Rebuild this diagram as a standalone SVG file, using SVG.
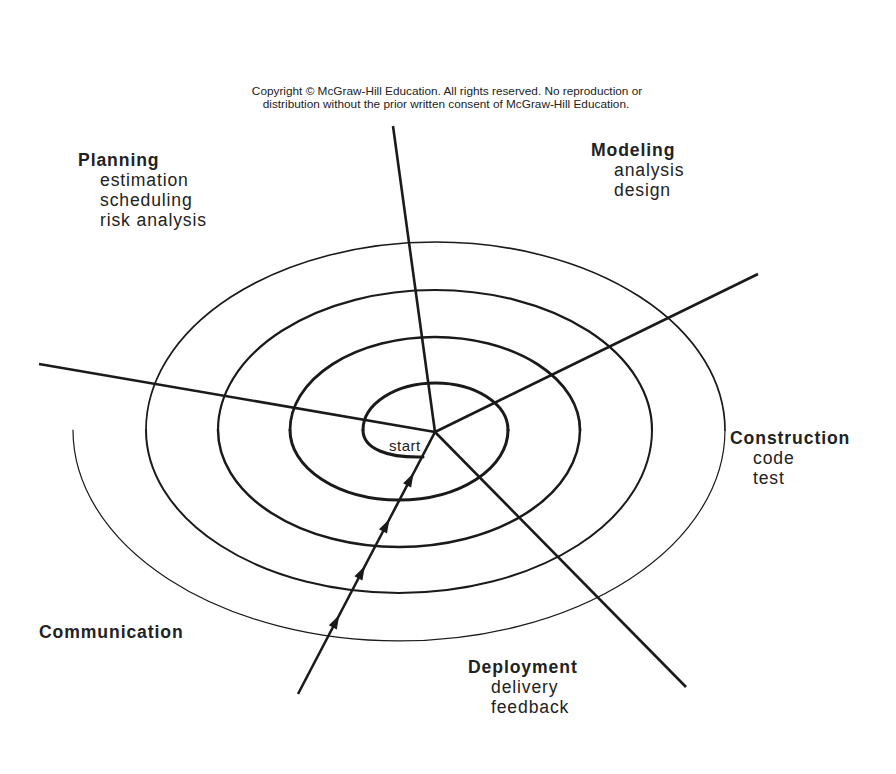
<svg xmlns="http://www.w3.org/2000/svg" width="896" height="774" viewBox="0 0 896 774">
<style>
.bg{fill:#ffffff}
.ring{fill:none;stroke:#1a1a1a;stroke-linecap:round}
.ray{fill:none;stroke:#1a1a1a;stroke-width:2.6;stroke-linecap:butt}
.copy{font-family:"Liberation Sans",Arial,sans-serif;font-size:11.8px;fill:#222;text-anchor:middle}
.head{font-family:"Liberation Sans",Arial,sans-serif;font-size:17.6px;font-weight:bold;fill:#222;letter-spacing:0.9px}
.item{font-family:"Liberation Sans",Arial,sans-serif;font-size:17.6px;fill:#222;letter-spacing:0.85px}
.start{font-family:"Liberation Sans",Arial,sans-serif;font-size:15px;fill:#222;letter-spacing:0.5px}
</style>
<defs>
<marker id="arr" markerUnits="userSpaceOnUse" viewBox="-15 -6 16 12" markerWidth="16" markerHeight="12" refX="0" refY="0" orient="auto">
<path d="M0,0 L-14,-4.5 L-14,4.5 Z" fill="#1a1a1a"/>
</marker>
</defs>
<rect class="bg" x="0" y="0" width="896" height="774"/>
<g id="copyright">
<text class="copy" x="447" y="95">Copyright © McGraw-Hill Education. All rights reserved. No reproduction or</text>
<text class="copy" x="446" y="108">distribution without the prior written consent of McGraw-Hill Education.</text>
</g>
<g id="spiral">
<path class="ring" style="stroke-width:3" d="M423,457 C388,458 363,449 363,430"/>
<path class="ring" style="stroke-width:3" d="M363,430 A72.5,47 0 0 1 508,430"/>
<path class="ring" style="stroke-width:3" d="M508,430 A109,70 0 0 1 290,430"/>
<path class="ring" style="stroke-width:2.7" d="M290,430 A145,93 0 0 1 580,430"/>
<path class="ring" style="stroke-width:2.5" d="M580,430 A181,117 0 0 1 218,430"/>
<path class="ring" style="stroke-width:2.2" d="M218,430 A217,140 0 0 1 652,430"/>
<path class="ring" style="stroke-width:2" d="M652,430 A253,163 0 0 1 146,430"/>
<path class="ring" style="stroke-width:1.7" d="M146,430 A289.5,188 0 0 1 725,430"/>
<path class="ring" style="stroke-width:1.2" d="M725,430 A326,211 0 0 1 73,430"/>
</g>
<g id="connectors">
<line class="ray" x1="435" y1="432" x2="393" y2="126"/>
<line class="ray" x1="435" y1="432" x2="758" y2="274"/>
<line class="ray" x1="435" y1="432" x2="39" y2="364"/>
<line class="ray" x1="435" y1="432" x2="686" y2="687"/>
<path class="ray" d="M298,694 L339.3,615 L364.9,566 L389.5,519 L413.6,473 L435,432" marker-mid="url(#arr)"/>
</g>
<g id="start">
<text class="start" x="389" y="451">start</text>
</g>
<g id="planning">
<text class="head" x="78" y="166">Planning</text>
<text class="item" x="100" y="186">estimation</text>
<text class="item" x="100" y="206">scheduling</text>
<text class="item" x="100" y="226">risk analysis</text>
</g>
<g id="modeling">
<text class="head" x="591" y="156">Modeling</text>
<text class="item" x="614" y="176">analysis</text>
<text class="item" x="614" y="196">design</text>
</g>
<g id="construction">
<text class="head" x="730" y="444">Construction</text>
<text class="item" x="753" y="464">code</text>
<text class="item" x="753" y="484">test</text>
</g>
<g id="communication">
<text class="head" x="39" y="638">Communication</text>
</g>
<g id="deployment">
<text class="head" x="468" y="673">Deployment</text>
<text class="item" x="491" y="693">delivery</text>
<text class="item" x="491" y="713">feedback</text>
</g>
</svg>
